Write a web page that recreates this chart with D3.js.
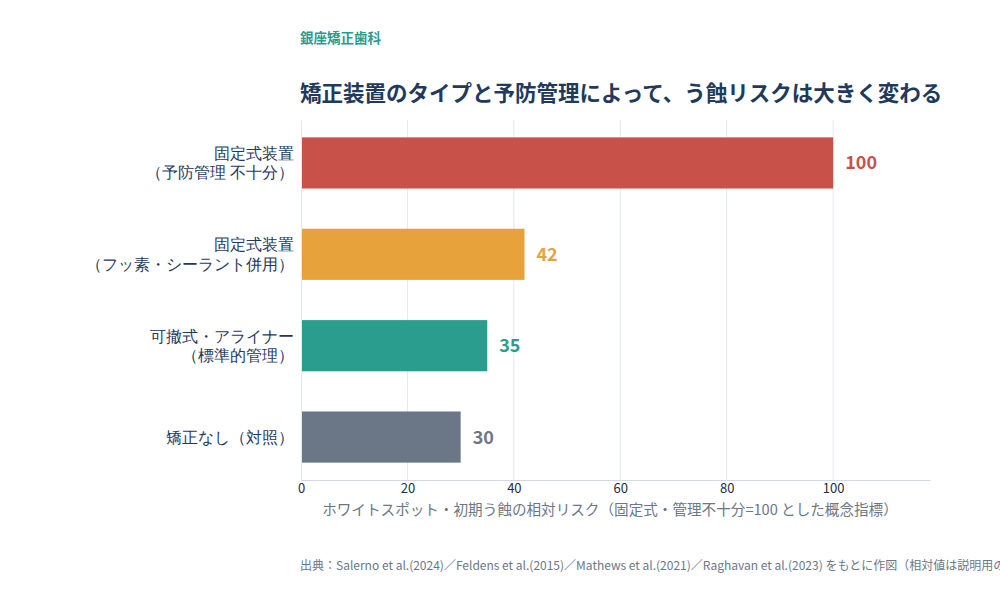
<!DOCTYPE html>
<html>
<head>
<meta charset="utf-8">
<script src="https://cdn.jsdelivr.net/npm/d3@7"></script>
<style>
  body { margin: 0; background: #fff; }
  svg { font-family: "Noto Sans CJK JP", "Noto Sans", sans-serif; }
</style>
</head>
<body>
<div id="chart"></div>
<script>
// data
const categories = [
  ["固定式装置", "（予防管理 不十分）"],
  ["固定式装置", "（フッ素・シーラント併用）"],
  ["可撤式・アライナー", "（標準的管理）"],
  ["矯正なし（対照）"]
];
const values = [100, 42, 35, 30];
const barColors = ["#c8524a", "#e8a23c", "#2a9d8f", "#6b7786"];
const xTicks = [0, 20, 40, 60, 80, 100];

const c_width = 1000;
const c_height = 600;

const svg = d3.select("#chart")
  .append("svg")
  .attr("width", c_width)
  .attr("height", c_height);

// plot area
const plotLeft = 301, plotRight = 930, plotTop = 120, plotBottom = 480;

const xScale = d3.scaleLinear()
  .domain([0, 118.2])
  .range([plotLeft, plotRight]);

const yScale = d3.scaleBand()
  .domain(d3.range(values.length))
  .range([plotTop, plotBottom])
  .paddingInner(0.44)
  .paddingOuter(0.19);

// brand + title
svg.append("text")
  .attr("x", 300).attr("y", 43)
  .attr("fill", "#2a9d8f")
  .attr("font-size", 13.5).attr("font-weight", 700)
  .text("銀座矯正歯科");

svg.append("text")
  .attr("x", 300).attr("y", 101)
  .attr("fill", "#1f3a5c")
  .attr("font-size", 21.5).attr("font-weight", 700)
  .text("矯正装置のタイプと予防管理によって、う蝕リスクは大きく変わる");

// gridlines
svg.append("g")
  .selectAll("line")
  .data(xTicks.slice(1))
  .enter()
  .append("line")
  .attr("x1", d => xScale(d)).attr("x2", d => xScale(d))
  .attr("y1", plotTop).attr("y2", plotBottom)
  .attr("stroke", "#e3e8ef").attr("stroke-width", 1);

// bars
svg.selectAll("rect.bar")
  .data(values)
  .enter()
  .append("rect")
  .attr("class", "bar")
  .attr("x", xScale(0))
  .attr("y", (d, i) => yScale(i))
  .attr("width", d => xScale(d) - xScale(0))
  .attr("height", yScale.bandwidth())
  .attr("fill", (d, i) => barColors[i]);

// value labels
svg.selectAll("text.val")
  .data(values)
  .enter()
  .append("text")
  .attr("class", "val")
  .attr("x", d => xScale(d) + 12)
  .attr("y", (d, i) => yScale(i) + yScale.bandwidth() / 2)
  .attr("dy", "0.36em")
  .attr("fill", (d, i) => barColors[i])
  .attr("font-size", 18).attr("font-weight", 700)
  .text(d => d);

// x axis
const xAxis = d3.axisBottom(xScale).tickValues(xTicks).tickSize(0).tickPadding(4);
const gx = svg.append("g")
  .attr("transform", "translate(0," + plotBottom + ")")
  .call(xAxis);
gx.select(".domain").attr("stroke", "#cfd8e3");
gx.selectAll("text")
  .attr("fill", "#1f2d3d")
  .attr("font-size", 13)
  .attr("font-family", "'Liberation Sans Narrow', 'Noto Sans CJK JP', sans-serif");

// y axis (category labels)
const yAxis = d3.axisLeft(yScale).tickSize(0).tickFormat("");
const gy = svg.append("g")
  .attr("transform", "translate(" + plotLeft + ",0)")
  .call(yAxis);
gy.select(".domain").attr("stroke", "#e3e8ef");
gy.selectAll(".tick").each(function(d) {
  const lines = categories[d];
  const t = d3.select(this).select("text")
    .attr("fill", "#1f3a5c")
    .attr("font-size", 16)
    .attr("text-anchor", "end")
    .attr("x", -7);
  const n = lines.length;
  lines.forEach((s, k) => {
    t.append("tspan")
      .attr("x", -7)
      .attr("dy", k === 0 ? ((-(n - 1) * 0.6 + 0.35) + "em") : "1.2em")
      .text(s);
  });
});

// axis title
svg.append("text")
  .attr("x", 610)
  .attr("y", 515)
  .attr("text-anchor", "middle")
  .attr("fill", "#6b7786")
  .attr("font-size", 14.6)
  .text("ホワイトスポット・初期う蝕の相対リスク（固定式・管理不十分=100 とした概念指標）");

// source (overflows the right edge, as in the original)
svg.append("text")
  .attr("x", 300).attr("y", 570)
  .attr("fill", "#6b7786")
  .attr("font-size", 12)
  .text("出典：Salerno et al.(2024)／Feldens et al.(2015)／Mathews et al.(2021)／Raghavan et al.(2023) をもとに作図（相対値は説明用の概念値）");
</script>
</body>
</html>
